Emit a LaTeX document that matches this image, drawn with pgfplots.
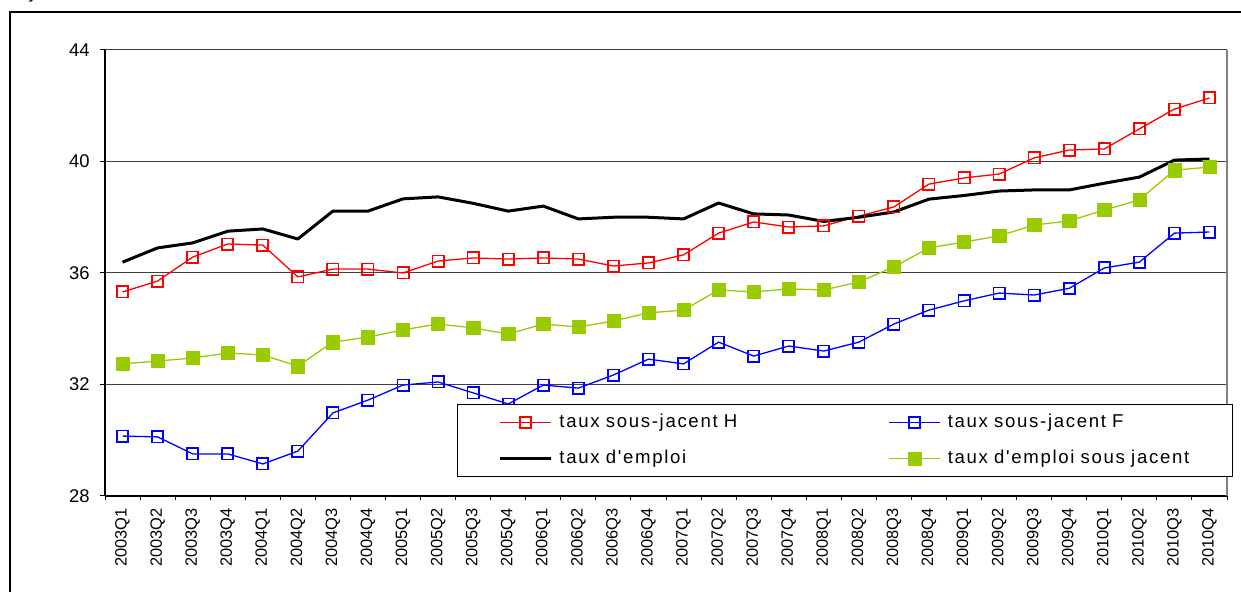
\documentclass[border=0pt]{standalone}
\usepackage{pgfplots}
\usepackage{pgfplotstable}
\pgfplotsset{compat=1.18}
\usepackage{fontspec}
\setmainfont{Liberation Sans}
\newfontfamily\legfont[LetterSpace=9]{Liberation Sans}
\definecolor{limeg}{RGB}{153,204,0}

\pgfplotstableread{
i H F E S
0 35.32 30.15 36.39 32.74
1 35.71 30.12 36.90 32.84
2 36.57 29.51 37.08 32.95
3 37.04 29.51 37.50 33.13
4 37.00 29.15 37.58 33.06
5 35.86 29.61 37.22 32.66
6 36.14 30.98 38.22 33.52
7 36.14 31.44 38.22 33.70
8 36.00 31.98 38.66 33.96
9 36.43 32.09 38.73 34.17
10 36.54 31.70 38.50 34.03
11 36.50 31.30 38.22 33.81
12 36.54 31.98 38.40 34.17
13 36.50 31.87 37.94 34.06
14 36.25 32.34 38.00 34.28
15 36.36 32.91 38.00 34.57
16 36.65 32.74 37.94 34.67
17 37.43 33.52 38.51 35.39
18 37.83 33.02 38.12 35.32
19 37.65 33.38 38.08 35.43
20 37.69 33.20 37.85 35.39
21 38.04 33.52 38.00 35.68
22 38.37 34.17 38.19 36.22
23 39.19 34.67 38.65 36.90
24 39.41 35.00 38.78 37.11
25 39.55 35.28 38.94 37.33
26 40.13 35.21 38.98 37.72
27 40.41 35.45 38.98 37.87
28 40.45 36.18 39.22 38.26
29 41.17 36.39 39.44 38.62
30 41.88 37.43 40.05 39.69
31 42.28 37.47 40.09 39.80
}\datatable

\begin{document}
\begin{tikzpicture}
\useasboundingbox (0,0) rectangle (620.5pt,-296pt);
\draw[line width=0.7pt] (5pt,-300pt) -- (5pt,-6pt) -- (625pt,-6pt);
\node[anchor=base, inner sep=0pt, font=\fontsize{9}{10}\selectfont] at (16.5pt,0.6pt) {y};
\begin{axis}[
  at={(52.5pt,-25pt)}, anchor=north west,
  width=561pt, height=223pt, scale only axis,
  xmin=-0.5, xmax=31.5, ymin=28, ymax=44,
  axis x line*=bottom, axis y line*=left,
  axis line style={line width=0.65pt, black, -},
  ytick={28,32,36,40,44},
  xtick={0,...,31},
  xticklabels={2003Q1,2003Q2,2003Q3,2003Q4,2004Q1,2004Q2,2004Q3,2004Q4,2005Q1,2005Q2,2005Q3,2005Q4,2006Q1,2006Q2,2006Q3,2006Q4,2007Q1,2007Q2,2007Q3,2007Q4,2008Q1,2008Q2,2008Q3,2008Q4,2009Q1,2009Q2,2009Q3,2009Q4,2010Q1,2010Q2,2010Q3,2010Q4},
  minor xtick={-0.5,0.5,...,31.5},
  tick align=outside,
  major tick length=2.5pt, minor tick length=2.2pt,
  major x tick style={draw=none},
  minor x tick style={black, line width=0.5pt},
  major y tick style={black, line width=0.5pt},
  ymajorgrids,
  major grid style={black!75, line width=0.5pt},
  /pgf/number format/assume math mode=true,
  ticklabel style={inner sep=0pt},
  xticklabel style={rotate=90, anchor=east, font=\fontsize{8.2}{9.6}\selectfont},
  yticklabel style={font=\fontsize{9.2}{10}\selectfont},
  xticklabel shift=3.5pt,
  yticklabel shift=5pt,
  legend columns=2,
  legend image code/.code={\draw[mark repeat=2,mark phase=2,#1] plot coordinates {(0pt,0pt) (12.75pt,0pt) (25.5pt,0pt)};},
  legend style={
    at={(0.3137,0.2063)}, anchor=north west,
    draw=black, line width=0.5pt, fill=white,
    inner xsep=20.5pt, inner ysep=4.5pt,
    row sep=9pt,
    nodes={inner sep=0pt, text width=122pt, align=left, text height=7pt, text depth=2pt, font=\legfont\fontsize{9.3}{10}\selectfont},
    /tikz/every odd column/.append style={column sep=3.5pt},
    /tikz/every even column/.append style={column sep=42.5pt},
  },
  legend cell align=left,
  after end axis/.code={\draw[gray, line width=0.6pt] (rel axis cs:1,0) -- (rel axis cs:1,1);},
]
\addplot[red, line width=0.65pt, mark=square, mark size=2.8pt, mark options={fill=white, line width=0.9pt, solid}] table[x=i, y=H] {\datatable};
\addlegendentry{taux sous-jacent H}
\addplot[blue, line width=0.65pt, mark=square, mark size=2.8pt, mark options={fill=white, line width=0.9pt, solid}] table[x=i, y=F] {\datatable};
\addlegendentry{taux sous-jacent F}
\addplot[black, line width=1.5pt, line join=round] table[x=i, y=E] {\datatable};
\addlegendentry{taux d'emploi}
\addplot[limeg, line width=0.65pt, mark=square*, mark size=3.3pt, mark options={fill=limeg, draw=limeg, line width=0.2pt, solid}] table[x=i, y=S] {\datatable};
\addlegendentry{taux d'emploi sous jacent}
\end{axis}
\end{tikzpicture}
\end{document}
